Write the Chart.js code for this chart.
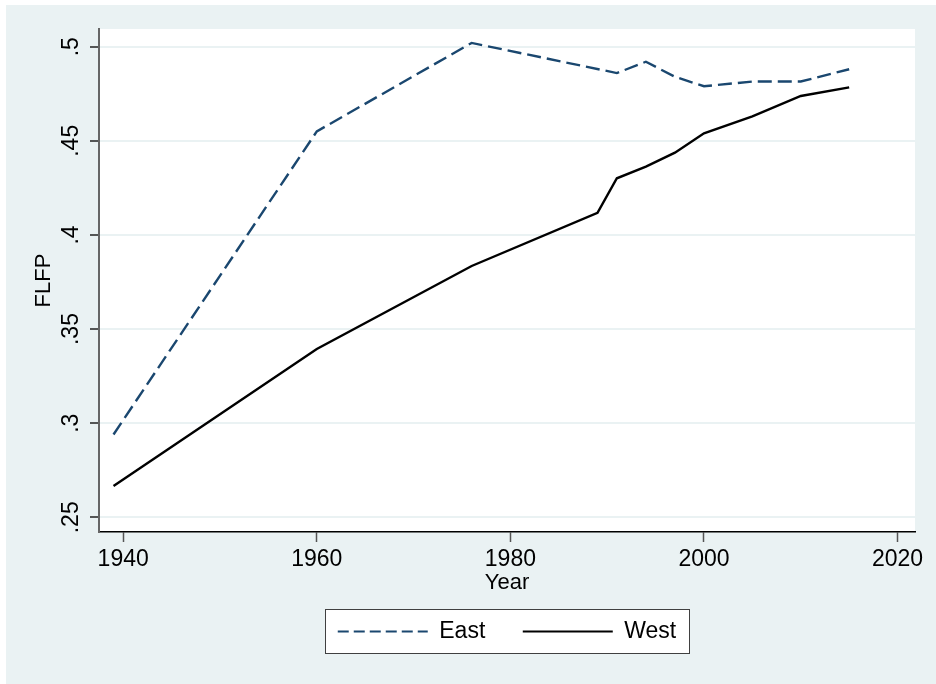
<!DOCTYPE html>
<html>
<head>
<meta charset="utf-8">
<title>FLFP East and West</title>
<script src="https://cdn.jsdelivr.net/npm/chart.js@4/dist/chart.umd.min.js"></script>
<style>
  html, body { margin: 0; padding: 0; background: #ffffff; }
  canvas { display: block; }
</style>
</head>
<body>
<canvas id="flfpChart" width="936" height="684"></canvas>
<script>
// Female labour force participation, East vs West
const eastYears = [1939, 1960, 1976, 1991, 1994, 1997, 2000, 2005, 2010, 2015];
const eastValues = [0.294, 0.455, 0.502, 0.486, 0.492, 0.484, 0.479, 0.4815, 0.4815, 0.488];

const westYears = [1939, 1960, 1976, 1989, 1991, 1994, 1997, 2000, 2005, 2010, 2015];
const westValues = [0.2666, 0.3394, 0.3835, 0.4118, 0.4301, 0.4363, 0.4437, 0.454, 0.463, 0.4738, 0.4784];

const xTicks = [1940, 1960, 1980, 2000, 2020];
const yTicks = [0.25, 0.3, 0.35, 0.4, 0.45, 0.5];
const yTickLabels = ['.25', '.3', '.35', '.4', '.45', '.5'];

const FONT = 'Liberation Sans, Arial, Helvetica, sans-serif';
const BG = '#eaf2f3';

document.addEventListener('DOMContentLoaded', function () {

  // outer grey-blue frame with white plot region
  const background = {
    id: 'background',
    beforeDraw(chart) {
      const { ctx, chartArea: a } = chart;
      ctx.save();
      ctx.fillStyle = '#ffffff';
      ctx.fillRect(0, 0, chart.width, chart.height);
      ctx.fillStyle = BG;
      ctx.fillRect(6, 5, chart.width - 6, chart.height - 5);
      ctx.fillStyle = '#ffffff';
      ctx.fillRect(a.left, a.top, a.right - a.left, a.bottom - a.top);
      ctx.restore();
    }
  };

  function legendRect(chart) {
    const boxes = chart.legend && chart.legend.legendHitBoxes;
    if (!boxes || !boxes.length) return null;
    const first = boxes[0];
    const last = boxes[boxes.length - 1];
    return {
      x: Math.round(first.left - 13),
      y: Math.round(first.top - 11),
      w: Math.round(last.left + last.width - first.left + 26),
      h: Math.round(first.height + 21)
    };
  }

  // white legend box with a thin dark outline
  const legendFrame = {
    id: 'legendFrame',
    beforeDraw(chart) {
      const r = legendRect(chart);
      if (!r) return;
      chart.ctx.save();
      chart.ctx.fillStyle = '#ffffff';
      chart.ctx.fillRect(r.x, r.y, r.w, r.h);
      chart.ctx.restore();
    },
    afterDraw(chart) {
      const r = legendRect(chart);
      if (!r) return;
      const ctx = chart.ctx;
      ctx.save();
      ctx.strokeStyle = '#404040';
      ctx.lineWidth = 1;
      ctx.strokeRect(r.x + 0.5, r.y + 0.5, r.w, r.h);
      ctx.restore();
    }
  };

  // legend keys drawn as line segments with the series' dash pattern
  const legendDash = { East: [11, 5], West: [] };

  function createLineChart() {
    const ctx = document.getElementById('flfpChart').getContext('2d');
    new Chart(ctx, {
      type: 'line',
      data: {
        datasets: [{
          label: 'East',
          data: eastYears.map((yr, i) => ({ x: yr, y: eastValues[i] })),
          borderColor: '#1a476f',
          borderWidth: 2.4,
          borderDash: [14, 6],
          pointRadius: 0,
          tension: 0,
          fill: false
        }, {
          label: 'West',
          data: westYears.map((yr, i) => ({ x: yr, y: westValues[i] })),
          borderColor: '#000000',
          borderWidth: 2.4,
          pointRadius: 0,
          tension: 0,
          fill: false
        }]
      },
      options: {
        responsive: false,
        animation: false,
        devicePixelRatio: 1,
        layout: { padding: { left: 0, top: 29, right: 21, bottom: 31 } },
        plugins: {
          tooltip: { enabled: false },
          legend: {
            position: 'bottom',
            fullSize: false,
            labels: {
              usePointStyle: true,
              pointStyle: 'line',
              pointStyleWidth: 90,
              padding: 37.5,
              color: '#000000',
              font: { family: FONT, size: 23 },
              generateLabels: chart => {
                const items = Chart.defaults.plugins.legend.labels.generateLabels(chart);
                items.forEach(item => {
                  const ds = chart.data.datasets[item.datasetIndex];
                  item.strokeStyle = ds.borderColor;
                  item.lineWidth = 2.2;
                  item.lineDash = legendDash[ds.label] || [];
                  item.pointStyle = 'line';
                });
                return items;
              }
            }
          }
        },
        scales: {
          x: {
            type: 'linear',
            min: 1937.5,
            max: 2021.8,
            afterBuildTicks: s => { s.ticks = xTicks.map(v => ({ value: v })); },
            afterFit: s => { s.height = 50.5; },
            border: { display: true, color: '#000000', width: 1.5 },
            grid: { drawOnChartArea: false, drawTicks: true, tickLength: 10, tickColor: '#555555', tickWidth: 1.5 },
            ticks: {
              autoSkip: false,
              maxRotation: 0,
              padding: 4,
              color: '#000000',
              font: { family: FONT, size: 23 },
              callback: v => String(v)
            },
            title: {
              display: true,
              text: 'Year',
              color: '#000000',
              font: { family: FONT, size: 22, lineHeight: 1 },
              padding: { top: 0, bottom: -11.5 }
            }
          },
          y: {
            type: 'linear',
            min: 0.2422,
            max: 0.5094,
            afterBuildTicks: s => { s.ticks = yTicks.map(v => ({ value: v })); },
            afterFit: s => { s.width = 99; },
            border: { display: true, color: '#666666', width: 2 },
            grid: { color: BG, lineWidth: 2, drawTicks: true, tickLength: 9, tickColor: '#222222', tickWidth: 1.5 },
            ticks: {
              autoSkip: false,
              minRotation: 90,
              maxRotation: 90,
              crossAlign: 'center',
              padding: 2,
              color: '#000000',
              font: { family: FONT, size: 23 },
              callback: (v, i) => yTickLabels[i]
            },
            title: {
              display: true,
              text: 'FLFP',
              color: '#000000',
              font: { family: FONT, size: 22 },
              padding: { top: 30.8, bottom: 0 }
            }
          }
        }
      },
      plugins: [background, legendFrame]
    });
  }

  createLineChart();
});
</script>
</body>
</html>
